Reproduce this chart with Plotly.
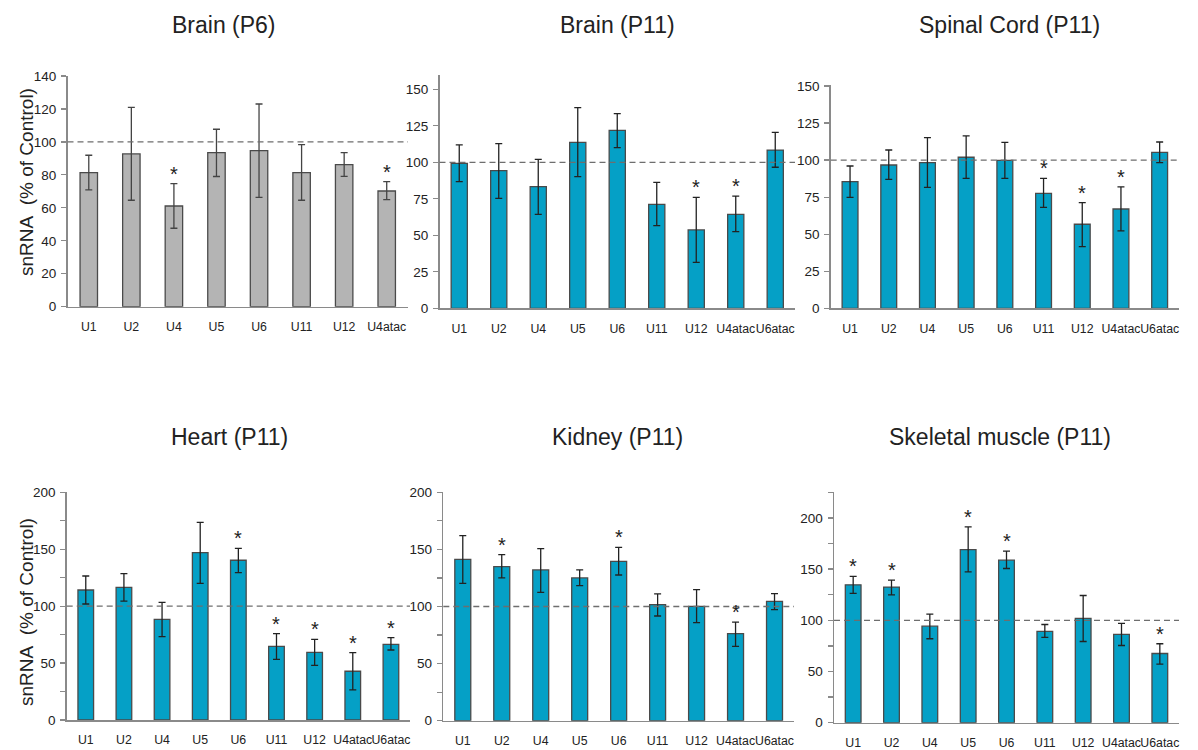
import plotly.graph_objects as go

# ---------------- data ----------------
categories_p6 = ["U1", "U2", "U4", "U5", "U6", "U11", "U12", "U4atac"]
categories_p11 = ["U1", "U2", "U4", "U5", "U6", "U11", "U12", "U4atac", "U6atac"]

brain_p6_mean = [81.4, 92.7, 61.1, 93.5, 94.7, 81.4, 86.2, 70.2]
brain_p6_err_top = [91.9, 121.0, 74.7, 107.7, 123.0, 98.4, 93.5, 75.9]
brain_p6_err_bot = [70.9, 64.6, 47.6, 79.0, 66.4, 64.6, 79.1, 65.0]
brain_p6_sig = [0, 0, 1, 0, 0, 0, 0, 1]

brain_p11_mean = [99.3, 94.3, 83.3, 113.7, 121.9, 71.2, 53.7, 64.4, 108.4]
brain_p11_err_top = [111.9, 112.8, 102.0, 137.4, 133.3, 86.3, 76.0, 76.9, 120.5]
brain_p11_err_bot = [86.8, 75.3, 64.4, 90.2, 110.0, 56.6, 31.5, 52.5, 96.6]
brain_p11_sig = [0, 0, 0, 0, 0, 0, 1, 1, 0]

spinal_mean = [85.5, 96.7, 98.3, 101.9, 99.8, 77.6, 56.7, 67.0, 105.2]
spinal_err_top = [96.0, 106.8, 115.1, 116.3, 112.0, 87.7, 71.3, 81.9, 112.2]
spinal_err_bot = [74.9, 87.0, 81.6, 87.7, 87.7, 68.1, 41.6, 52.2, 98.3]
spinal_sig = [0, 0, 0, 0, 0, 1, 1, 1, 0]

heart_mean = [114.2, 116.5, 88.4, 147.0, 140.3, 64.7, 59.4, 42.8, 66.5]
heart_err_top = [126.5, 128.6, 103.4, 173.6, 150.8, 75.8, 70.9, 59.2, 72.3]
heart_err_bot = [101.9, 104.5, 73.2, 120.0, 129.4, 53.3, 48.0, 26.4, 61.5]
heart_sig = [0, 0, 0, 0, 1, 1, 1, 1, 1]

kidney_mean = [141.3, 134.9, 132.0, 125.0, 139.6, 101.6, 100.1, 76.2, 104.5]
kidney_err_top = [162.0, 145.4, 150.7, 132.0, 151.8, 111.0, 114.7, 86.4, 111.2]
kidney_err_bot = [120.3, 125.0, 112.4, 118.2, 127.6, 91.7, 85.8, 65.1, 97.2]
kidney_sig = [0, 1, 0, 0, 1, 0, 0, 1, 0]

muscle_mean = [134.6, 132.4, 94.3, 169.1, 158.7, 89.1, 101.8, 86.2, 67.6]
muscle_err_top = [142.8, 139.2, 106.0, 191.2, 167.5, 95.9, 124.2, 96.9, 77.1]
muscle_err_bot = [126.2, 124.9, 82.0, 147.3, 150.6, 83.3, 79.3, 75.4, 57.2]
muscle_sig = [1, 1, 0, 1, 1, 0, 0, 0, 1]

panel_titles = ["Brain (P6)", "Brain (P11)", "Spinal Cord (P11)",
                "Heart (P11)", "Kidney (P11)", "Skeletal muscle (P11)"]
y_title = "snRNA\u00a0 (% of Control)"
control_level = 100

# ---------------- layout helpers ----------------
W, H = 1198, 750
FONT = "Liberation Sans, Arial, sans-serif"
BLUE = "#05A0C6"
GRAY = "#B4B4B4"
TXT = "#222222"


def fx(p):
    return p / W


def fy(p):
    return 1 - p / H


panels = [
    dict(cats=categories_p6, mean=brain_p6_mean, top=brain_p6_err_top, bot=brain_p6_err_bot,
         sig=brain_p6_sig, color=GRAY, ecolor="#444444",
         x0=67.5, x1=408, ybot=306.7, ytop=76, yr=[0, 140], dtick=20, minor=None,
         title_xy=(224, 25)),
    dict(cats=categories_p11, mean=brain_p11_mean, top=brain_p11_err_top, bot=brain_p11_err_bot,
         sig=brain_p11_sig, color=BLUE, ecolor="#222222",
         x0=439.5, x1=795, ybot=308.3, ytop=74.7, yr=[0, 160], dtick=25, minor=None,
         title_xy=(617, 25)),
    dict(cats=categories_p11, mean=spinal_mean, top=spinal_err_top, bot=spinal_err_bot,
         sig=spinal_sig, color=BLUE, ecolor="#222222",
         x0=830.7, x1=1179, ybot=308.3, ytop=84.5, yr=[0, 151], dtick=25, minor=None,
         title_xy=(1009, 25)),
    dict(cats=categories_p11, mean=heart_mean, top=heart_err_top, bot=heart_err_bot,
         sig=heart_sig, color=BLUE, ecolor="#222222",
         x0=66.7, x1=410, ybot=720, ytop=492.3, yr=[0, 200], dtick=50, minor=25,
         title_xy=(229, 437)),
    dict(cats=categories_p11, mean=kidney_mean, top=kidney_err_top, bot=kidney_err_bot,
         sig=kidney_sig, color=BLUE, ecolor="#222222",
         x0=443.3, x1=794, ybot=720.7, ytop=492.3, yr=[0, 200], dtick=50, minor=25,
         title_xy=(617, 437)),
    dict(cats=categories_p11, mean=muscle_mean, top=muscle_err_top, bot=muscle_err_bot,
         sig=muscle_sig, color=BLUE, ecolor="#222222",
         x0=834, x1=1179, ybot=722.7, ytop=492.3, yr=[0, 225], dtick=50, minor=25,
         title_xy=(1000, 437)),
]

fig = go.Figure()
layout = dict(
    width=W, height=H, autosize=False,
    margin=dict(l=0, r=0, t=0, b=0, autoexpand=False),
    paper_bgcolor="white", plot_bgcolor="white",
    showlegend=False,
    font=dict(family=FONT, color=TXT, size=13),
)
annotations = []
shapes = []

for i, p in enumerate(panels):
    n = i + 1
    xa = "x" if n == 1 else f"x{n}"
    ya = "y" if n == 1 else f"y{n}"
    plus = [t - m for t, m in zip(p["top"], p["mean"])]
    minus = [m - b for m, b in zip(p["mean"], p["bot"])]
    fig.add_trace(go.Bar(
        x=p["cats"], y=p["mean"], xaxis=xa, yaxis=ya,
        width=0.41,
        marker=dict(color=p["color"], line=dict(color="#4a4a4a", width=1.3)),
        error_y=dict(type="data", symmetric=False, array=plus, arrayminus=minus,
                     color=p["ecolor"], thickness=1.3, width=3.5),
        hoverinfo="skip",
    ))
    xkey = "xaxis" if n == 1 else f"xaxis{n}"
    ykey = "yaxis" if n == 1 else f"yaxis{n}"
    layout[xkey] = dict(
        domain=[fx(p["x0"]), fx(p["x1"])], anchor=ya,
        range=[-0.5, len(p["cats"]) - 0.5],
        showline=True, linecolor="#8a8a8a", linewidth=1.5,
        ticks="", showgrid=False, zeroline=False, automargin=False,
        tickangle=0,
        tickfont=dict(family=FONT, size=12.3, color=TXT),
        ticklabelstandoff=8, fixedrange=True,
    )
    yax = dict(
        domain=[fy(p["ybot"]), fy(p["ytop"])], anchor=xa,
        range=p["yr"], dtick=p["dtick"], tick0=0,
        showline=True, linecolor="#8a8a8a", linewidth=1.5,
        ticks="outside", ticklen=5, tickcolor="#8a8a8a", tickwidth=1.2,
        showgrid=False, zeroline=False, automargin=False,
        tickfont=dict(family=FONT, size=13.5, color=TXT),
        ticklabelstandoff=2, fixedrange=True,
    )
    if p["minor"]:
        yax["minor"] = dict(dtick=p["minor"], tick0=0, ticks="outside", ticklen=5,
                            tickcolor="#8a8a8a", tickwidth=1.2, showgrid=False)
    layout[ykey] = yax

    # dashed control line
    shapes.append(dict(type="line", xref=f"{xa} domain", yref=ya,
                       x0=0, x1=1, y0=control_level, y1=control_level,
                       line=dict(color="#6e6e6e", width=1.3, dash="6px,4px")))

    # significance stars
    for c, t, s in zip(p["cats"], p["top"], p["sig"]):
        if s:
            annotations.append(dict(x=c, y=t, xref=xa, yref=ya, text="*",
                                    showarrow=False, yanchor="middle", yshift=10,
                                    font=dict(family=FONT, size=20, color=TXT)))

    # panel title
    tx, ty = p["title_xy"]
    annotations.append(dict(x=fx(tx), y=fy(ty), xref="paper", yref="paper",
                            text=panel_titles[i], showarrow=False,
                            xanchor="center", yanchor="middle",
                            font=dict(family=FONT, size=23, color=TXT)))

# y axis titles
for cy in (182, 612):
    annotations.append(dict(x=fx(26), y=fy(cy), xref="paper", yref="paper",
                            text=y_title, textangle=-90, showarrow=False,
                            xanchor="center", yanchor="middle",
                            font=dict(family=FONT, size=19, color=TXT)))

layout["annotations"] = annotations
layout["shapes"] = shapes
fig.update_layout(**layout)
fig.write_html("out.html",
               config=dict(displayModeBar=False, staticPlot=True),
               post_script="document.body.style.margin='0';document.body.style.overflow='hidden';")
